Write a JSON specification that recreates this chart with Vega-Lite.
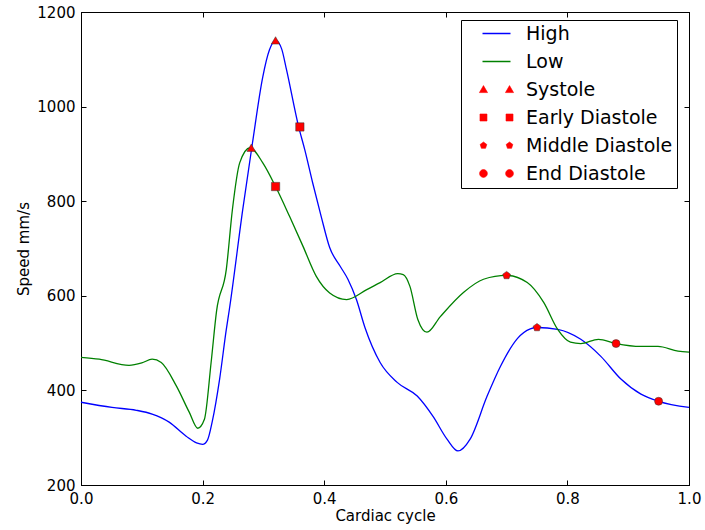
{
  "$schema": "https://vega.github.io/schema/vega-lite/v6.json",
  "autosize": {"type": "none"},
  "padding": {"left": 81, "top": 12, "right": 16, "bottom": 45},
  "width": 608,
  "height": 473,
  "background": "white",
  "config": {
    "view": {"stroke": "black", "strokeWidth": 1},
    "font": "DejaVu Sans",
    "axis": {
      "grid": false,
      "domainColor": "black",
      "tickColor": "black",
      "labelColor": "black",
      "titleColor": "black",
      "labelFont": "DejaVu Sans",
      "titleFont": "DejaVu Sans",
      "labelFontSize": 15,
      "titleFontSize": 15,
      "titleFontWeight": "normal",
      "tickSize": -5,
      "labelPadding": 11,
      "labelFlush": false
    }
  },
  "datasets": {
    "curves": [
      {"name": "High", "x": 0.000, "y": 375},
      {"name": "High", "x": 0.051, "y": 364},
      {"name": "High", "x": 0.091, "y": 358},
      {"name": "High", "x": 0.117, "y": 350},
      {"name": "High", "x": 0.145, "y": 333},
      {"name": "High", "x": 0.173, "y": 303},
      {"name": "High", "x": 0.190, "y": 289},
      {"name": "High", "x": 0.200, "y": 286},
      {"name": "High", "x": 0.208, "y": 295},
      {"name": "High", "x": 0.216, "y": 335},
      {"name": "High", "x": 0.228, "y": 424},
      {"name": "High", "x": 0.239, "y": 529},
      {"name": "High", "x": 0.244, "y": 571},
      {"name": "High", "x": 0.266, "y": 782},
      {"name": "High", "x": 0.282, "y": 923},
      {"name": "High", "x": 0.299, "y": 1063},
      {"name": "High", "x": 0.310, "y": 1120},
      {"name": "High", "x": 0.320, "y": 1140},
      {"name": "High", "x": 0.330, "y": 1122},
      {"name": "High", "x": 0.338, "y": 1078},
      {"name": "High", "x": 0.358, "y": 957},
      {"name": "High", "x": 0.368, "y": 909},
      {"name": "High", "x": 0.381, "y": 839},
      {"name": "High", "x": 0.395, "y": 768},
      {"name": "High", "x": 0.409, "y": 702},
      {"name": "High", "x": 0.426, "y": 663},
      {"name": "High", "x": 0.439, "y": 635},
      {"name": "High", "x": 0.453, "y": 592},
      {"name": "High", "x": 0.467, "y": 533},
      {"name": "High", "x": 0.492, "y": 459},
      {"name": "High", "x": 0.520, "y": 417},
      {"name": "High", "x": 0.553, "y": 388},
      {"name": "High", "x": 0.579, "y": 345},
      {"name": "High", "x": 0.602, "y": 297},
      {"name": "High", "x": 0.620, "y": 272},
      {"name": "High", "x": 0.640, "y": 297},
      {"name": "High", "x": 0.668, "y": 388},
      {"name": "High", "x": 0.690, "y": 451},
      {"name": "High", "x": 0.718, "y": 510},
      {"name": "High", "x": 0.739, "y": 530},
      {"name": "High", "x": 0.750, "y": 533},
      {"name": "High", "x": 0.784, "y": 529},
      {"name": "High", "x": 0.822, "y": 508},
      {"name": "High", "x": 0.855, "y": 472},
      {"name": "High", "x": 0.888, "y": 424},
      {"name": "High", "x": 0.921, "y": 392},
      {"name": "High", "x": 0.950, "y": 377},
      {"name": "High", "x": 1.000, "y": 364},
      {"name": "Low", "x": 0.000, "y": 470},
      {"name": "Low", "x": 0.030, "y": 466},
      {"name": "Low", "x": 0.079, "y": 453},
      {"name": "Low", "x": 0.100, "y": 458},
      {"name": "Low", "x": 0.117, "y": 466},
      {"name": "Low", "x": 0.132, "y": 459},
      {"name": "Low", "x": 0.157, "y": 409},
      {"name": "Low", "x": 0.178, "y": 354},
      {"name": "Low", "x": 0.192, "y": 320},
      {"name": "Low", "x": 0.203, "y": 339},
      {"name": "Low", "x": 0.214, "y": 459},
      {"name": "Low", "x": 0.223, "y": 568},
      {"name": "Low", "x": 0.239, "y": 656},
      {"name": "Low", "x": 0.249, "y": 782},
      {"name": "Low", "x": 0.261, "y": 881},
      {"name": "Low", "x": 0.278, "y": 913},
      {"name": "Low", "x": 0.299, "y": 881},
      {"name": "Low", "x": 0.320, "y": 831},
      {"name": "Low", "x": 0.343, "y": 768},
      {"name": "Low", "x": 0.365, "y": 705},
      {"name": "Low", "x": 0.387, "y": 641},
      {"name": "Low", "x": 0.409, "y": 606},
      {"name": "Low", "x": 0.437, "y": 592},
      {"name": "Low", "x": 0.470, "y": 613},
      {"name": "Low", "x": 0.492, "y": 628},
      {"name": "Low", "x": 0.521, "y": 647},
      {"name": "Low", "x": 0.530, "y": 645},
      {"name": "Low", "x": 0.541, "y": 620},
      {"name": "Low", "x": 0.554, "y": 550},
      {"name": "Low", "x": 0.569, "y": 523},
      {"name": "Low", "x": 0.591, "y": 556},
      {"name": "Low", "x": 0.629, "y": 607},
      {"name": "Low", "x": 0.662, "y": 635},
      {"name": "Low", "x": 0.700, "y": 643},
      {"name": "Low", "x": 0.734, "y": 628},
      {"name": "Low", "x": 0.761, "y": 586},
      {"name": "Low", "x": 0.784, "y": 529},
      {"name": "Low", "x": 0.805, "y": 502},
      {"name": "Low", "x": 0.822, "y": 499},
      {"name": "Low", "x": 0.851, "y": 508},
      {"name": "Low", "x": 0.880, "y": 499},
      {"name": "Low", "x": 0.921, "y": 493},
      {"name": "Low", "x": 0.949, "y": 493},
      {"name": "Low", "x": 0.982, "y": 483},
      {"name": "Low", "x": 1.000, "y": 481}
    ],
    "markers": [
      {"name": "Systole", "x": 0.32, "y": 1140},
      {"name": "Systole", "x": 0.28, "y": 913},
      {"name": "Early Diastole", "x": 0.36, "y": 957},
      {"name": "Early Diastole", "x": 0.32, "y": 831},
      {"name": "Middle Diastole", "x": 0.75, "y": 533},
      {"name": "Middle Diastole", "x": 0.70, "y": 643},
      {"name": "End Diastole", "x": 0.95, "y": 377},
      {"name": "End Diastole", "x": 0.88, "y": 499}
    ]
  },
  "layer": [
    {
      "data": {"name": "curves"},
      "mark": {"type": "line", "interpolate": "monotone", "strokeWidth": 1.3},
      "encoding": {
        "x": {
          "field": "x", "type": "quantitative",
          "scale": {"domain": [0, 1], "nice": false, "zero": false},
          "axis": {"values": [0, 0.2, 0.4, 0.6, 0.8, 1.0], "format": ".1f", "title": "Cardiac cycle", "titlePadding": 2}
        },
        "y": {
          "field": "y", "type": "quantitative",
          "scale": {"domain": [200, 1200], "nice": false, "zero": false},
          "axis": {"values": [200, 400, 600, 800, 1000, 1200], "format": "d", "title": "Speed mm/s", "titlePadding": 5}
        },
        "color": {
          "field": "name", "type": "nominal",
          "scale": {
            "domain": ["High", "Low", "Systole", "Early Diastole", "Middle Diastole", "End Diastole"],
            "range": ["#0000ff", "#008000", "#ff0000", "#ff0000", "#ff0000", "#ff0000"]
          },
          "legend": {
            "title": null,
            "orient": "none",
            "legendX": 380,
            "legendY": 8,
            "padding": 4,
            "fillColor": "white",
            "strokeColor": "black",
            "cornerRadius": 0,
            "labelFont": "DejaVu Sans",
            "labelFontSize": 19,
            "labelColor": "black",
            "labelOffset": 20,
            "symbolSize": 784,
            "symbolOffset": 22,
            "rowPadding": 8,
            "labelLimit": 300,
            "encode": {
              "symbols": {
                "update": {
                  "shape": {"signal": "datum.value === 'High' || datum.value === 'Low' ? 'stroke' : datum.value === 'Systole' ? 'M-1.22,0.22L-0.93,-0.28L-0.64,0.22ZM0.64,0.22L0.93,-0.28L1.22,0.22Z' : datum.value === 'Early Diastole' ? 'M-1.18,-0.25H-0.68V0.25H-1.18ZM0.68,-0.25H1.18V0.25H0.68Z' : datum.value === 'Middle Diastole' ? 'M-0.93,-0.25L-0.692,-0.077L-0.783,0.202L-1.077,0.202L-1.168,-0.077ZM0.93,-0.25L1.168,-0.077L1.077,0.202L0.783,0.202L0.692,-0.077Z' : 'M-1.21,0A0.28,0.28 0 1,1 -0.65,0A0.28,0.28 0 1,1 -1.21,0ZM0.65,0A0.28,0.28 0 1,1 1.21,0A0.28,0.28 0 1,1 0.65,0Z'"},
                  "stroke": {"signal": "datum.value === 'High' ? '#0000ff' : datum.value === 'Low' ? '#008000' : '#333333'"},
                  "fill": {"signal": "datum.value === 'High' || datum.value === 'Low' ? 'transparent' : '#ff0000'"},
                  "strokeWidth": {"signal": "datum.value === 'High' || datum.value === 'Low' ? 1.5 : 0.6"},
                  "opacity": {"value": 1},
                  "fillOpacity": {"value": 1},
                  "strokeOpacity": {"value": 1}
                }
              }
            }
          }
        }
      }
    },
    {
      "data": {"name": "markers"},
      "mark": {"type": "point", "filled": true, "opacity": 1, "stroke": "#333333", "strokeWidth": 0.5},
      "encoding": {
        "x": {
          "field": "x", "type": "quantitative",
          "axis": {"orient": "top", "values": [0, 0.2, 0.4, 0.6, 0.8, 1.0], "labels": false, "title": null}
        },
        "y": {
          "field": "y", "type": "quantitative",
          "axis": {"orient": "right", "values": [200, 400, 600, 800, 1000, 1200], "labels": false, "title": null}
        },
        "color": {"field": "name", "type": "nominal"},
        "shape": {
          "field": "name", "type": "nominal",
          "scale": {
            "domain": ["Systole", "Early Diastole", "Middle Diastole", "End Diastole"],
            "range": ["triangle-up", "square", "M0,-1L0.951,-0.309L0.588,0.809L-0.588,0.809L-0.951,-0.309Z", "circle"]
          },
          "legend": null
        },
        "size": {
          "field": "name", "type": "nominal",
          "scale": {
            "domain": ["Systole", "Early Diastole", "Middle Diastole", "End Diastole"],
            "range": [72, 64, 49, 60]
          },
          "legend": null
        }
      }
    }
  ],
  "resolve": {"axis": {"x": "independent", "y": "independent"}}
}
